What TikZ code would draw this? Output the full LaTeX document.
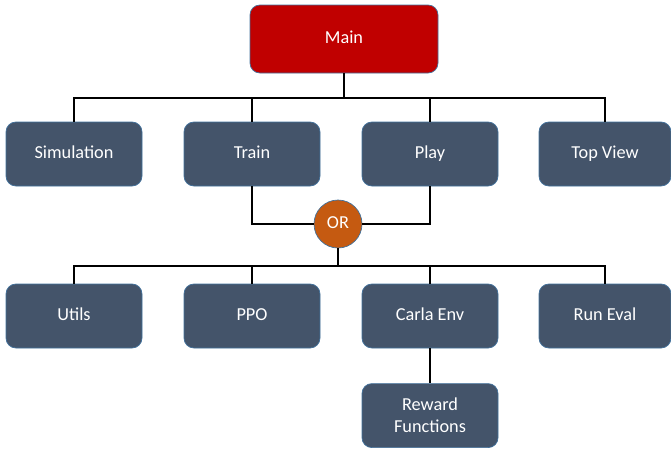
\documentclass[tikz,border=0pt]{standalone}
\usepackage{tikz}
\usetikzlibrary{shapes,positioning,calc}
\usepackage{fontspec}
\setmainfont{Carlito}
\definecolor{slate}{HTML}{44546A}
\definecolor{mainred}{HTML}{C00000}
\definecolor{orfill}{HTML}{C55A11}
\definecolor{edgeblue}{HTML}{41719C}

\begin{document}
\begin{tikzpicture}[
  box/.style={rectangle, draw=edgeblue, line width=0.5pt, fill=#1, text=white, minimum width=3.4cm, minimum height=1.6cm, align=center, font=\fontsize{13}{15.5}\selectfont, rounded corners=7pt},
  module/.style={box=#1, text height=0.62em, text depth=0pt},
  gate/.style={circle, draw=edgeblue, line width=0.5pt, fill=#1, text=white, minimum size=1.2cm, inner sep=0pt, font=\fontsize{13}{15.5}\selectfont, text height=0.62em, text depth=0pt},
  conn/.style={black, line width=1pt}
]
  \useasboundingbox (0,0) rectangle (16.775,-11.25);

  \node[module=mainred, minimum width=4.7cm, minimum height=1.7cm] (main) at (8.6, -0.975) {Main};

  \node[module=slate] (sim) at (1.85, -3.85) {Simulation};
  \node[module=slate] (train) at (6.3, -3.85) {Train};
  \node[module=slate] (play) at (10.75, -3.85) {Play};
  \node[module=slate, minimum width=3.3cm] (top) at (15.125, -3.85) {Top View};

  \node[gate=orfill] (or) at (8.45, -5.6) {OR};

  \node[module=slate] (utils) at (1.85, -7.9) {Utils};
  \node[module=slate] (ppo) at (6.3, -7.9) {PPO};
  \node[module=slate] (carla) at (10.75, -7.9) {Carla Env};
  \node[module=slate, minimum width=3.3cm] (eval) at (15.125, -7.9) {Run Eval};

  \node[box=slate] (reward) at (10.75, -10.39) {Reward\\Functions};

  \coordinate (bar1) at (8.6, -2.45);
  \coordinate (bar2) at (8.45, -6.65);

  \draw[conn] (main) -- (bar1);
  \foreach \n in {sim, train, play, top}
    \draw[conn] (bar1) -| (\n.north);
  \draw[conn] (train) |- (or);
  \draw[conn] (play) |- (or);
  \draw[conn] (or) -- (bar2);
  \foreach \n in {utils, ppo, carla, eval}
    \draw[conn] (bar2) -| (\n.north);
  \draw[conn] (carla) -- (reward);
\end{tikzpicture}
\end{document}
